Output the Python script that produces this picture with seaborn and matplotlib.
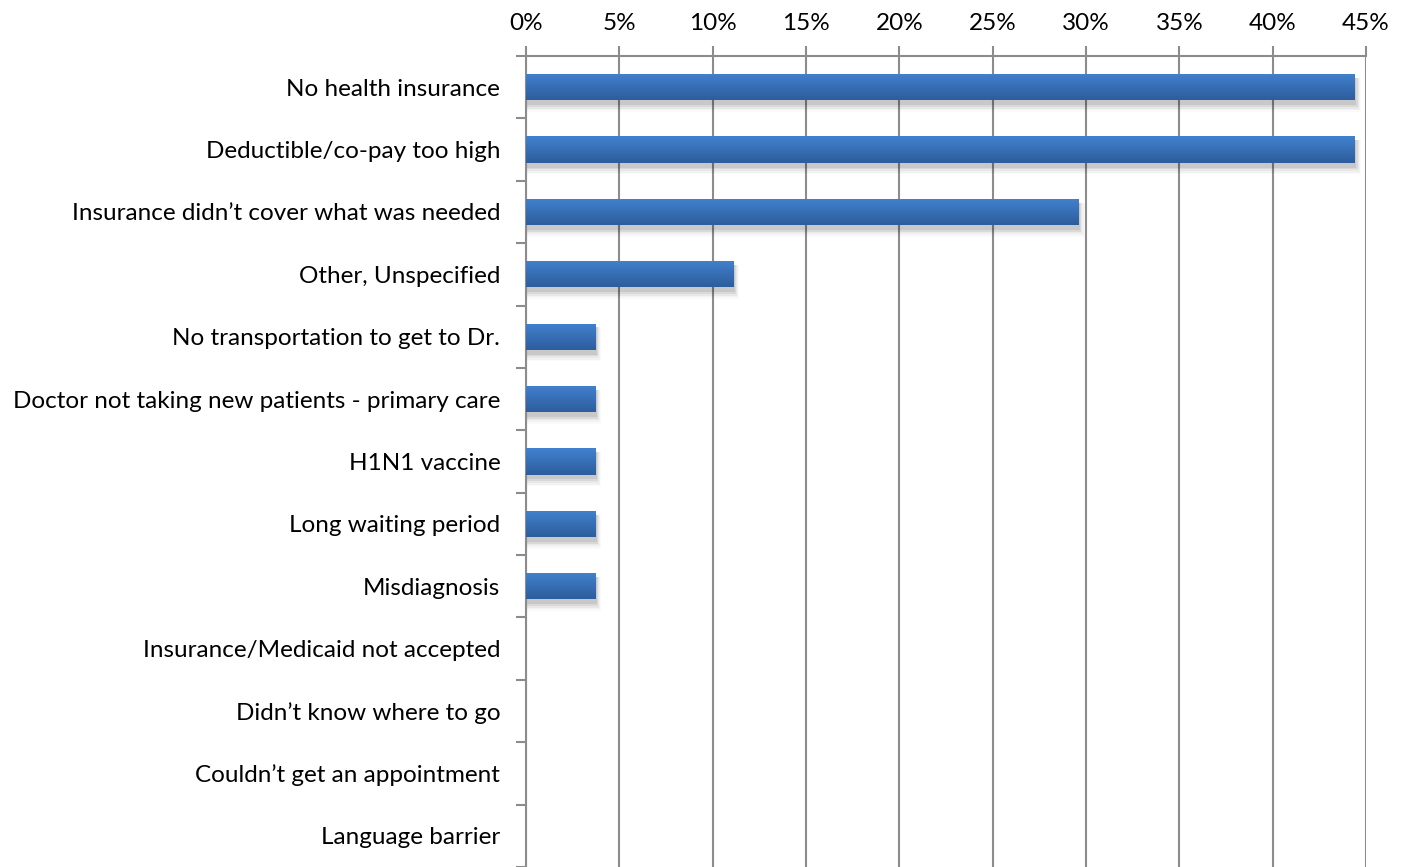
import numpy as np
import pandas as pd
import matplotlib
matplotlib.use("Agg")
import matplotlib.pyplot as plt
import seaborn as sns
from matplotlib.colors import LinearSegmentedColormap
from matplotlib.patches import Rectangle

reasons = [
    "No health insurance",
    "Deductible/co-pay too high",
    "Insurance didn\u2019t cover what was needed",
    "Other, Unspecified",
    "No transportation to get to Dr.",
    "Doctor not taking new patients - primary care",
    "H1N1 vaccine",
    "Long waiting period",
    "Misdiagnosis",
    "Insurance/Medicaid not accepted",
    "Didn\u2019t know where to go",
    "Couldn\u2019t get an appointment",
    "Language barrier",
]
percent = [44.4, 44.4, 29.6, 11.1, 3.7, 3.7, 3.7, 3.7, 3.7, 0, 0, 0, 0]
x_ticks = [0, 5, 10, 15, 20, 25, 30, 35, 40, 45]

df = pd.DataFrame({"reason": reasons, "percent": percent})

sns.set_theme(style="white")
plt.rcParams["font.family"] = ["Lato", "DejaVu Sans"]

fig = plt.figure(figsize=(14.06, 8.67), dpi=100)
ax = fig.add_axes([526 / 1406, 0.0, 840 / 1406, 1 - 56 / 867])

sns.barplot(data=df, x="percent", y="reason", orient="h", width=0.42,
            color="#3a74bd", linewidth=0, ax=ax, zorder=3)

# gradient fill and soft drop shadow for each bar
cmap = LinearSegmentedColormap.from_list("barfill", ["#4281cf", "#2d5d9c"])
grad = np.linspace(0, 1, 64).reshape(-1, 1)
for p in list(ax.patches):
    w = p.get_width()
    if w <= 0:
        p.set_visible(False)
        continue
    x0, y0, h = p.get_x(), p.get_y(), p.get_height()
    for k, a in enumerate([0.08, 0.06, 0.04, 0.03, 0.02]):
        d = 0.02 + 0.03 * k
        sh = Rectangle((x0 + 0.05, y0 + 0.06), w + d * 2.0, h + d * 0.9,
                       facecolor="black", edgecolor="none", alpha=a, zorder=2)
        ax.add_patch(sh)
    im = ax.imshow(grad, cmap=cmap, aspect="auto", zorder=4,
                   extent=(x0, x0 + w, y0 + h, y0), interpolation="bilinear")
    im.set_clip_path(p)
ax.set_xlim(0, 45)
ax.set_ylim(12.5, -0.5)

ax.xaxis.tick_top()
ax.set_xticks(x_ticks)
ax.set_xticklabels([f"{t}%" for t in x_ticks])
ax.set_yticks(range(len(reasons)))
ax.set_yticklabels(reasons)
ax.set_yticks(np.arange(-0.5, len(reasons), 1), minor=True)
ax.set_xlabel("")
ax.set_ylabel("")

gray = "#8c8c8c"
ax.grid(axis="x", color=gray, linewidth=1.5, zorder=1)
ax.set_axisbelow(True)
for s in ["right", "bottom"]:
    ax.spines[s].set_visible(False)
for s in ["top", "left"]:
    ax.spines[s].set_color(gray)
    ax.spines[s].set_linewidth(1.5)

ax.tick_params(axis="x", which="major", top=True, bottom=False, length=7,
               width=1.5, color=gray, labelsize=17.5, pad=9, labelcolor="#000000")
ax.tick_params(axis="y", which="major", left=False, labelsize=17.5, pad=12.5,
               labelcolor="#000000")
ax.tick_params(axis="y", which="minor", left=True, length=7, width=1.5, color=gray)

fig.savefig("out.png", dpi=100)
